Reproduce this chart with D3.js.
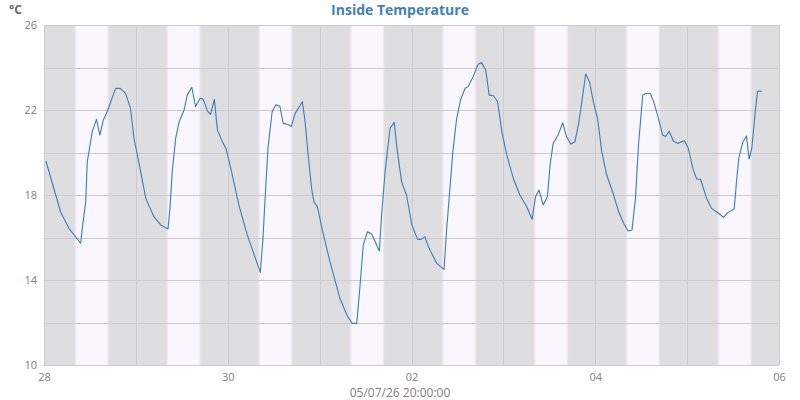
<!DOCTYPE html>
<html>
<head>
<meta charset="utf-8">
<script src="https://cdn.jsdelivr.net/npm/d3@7"></script>
<style>
  html, body { margin: 0; padding: 0; background: #fff; }
  svg { display: block; font-family: "Open Sans", "DejaVu Sans", sans-serif; }
</style>
</head>
<body>
<svg id="chart" width="800" height="400"></svg>
<script>
// ---- data ----
const chartTitle = "Inside Temperature";
const unitLabel = "°C";
const footerLabel = "05/07/26 20:00:00";
const startDate = "2026-04-28T00:00:00Z";
const endDate = "2026-05-06T00:00:00Z";
const xTickLabels = ["28", "30", "02", "04", "06"];
// hours since start
const hours = [0.5,4.35,6.5,9.6,10.0,10.9,11.3,11.75,12.6,13.7,14.6,15.5,16.5,18.7,19.9,21.3,22.6,23.5,24.4,26.6,28.7,30.5,32.4,32.9,33.5,34.4,35.3,36.6,37.4,38.6,39.6,40.8,41.6,42.7,43.5,44.5,45.3,46.6,47.6,48.8,50.9,53.1,54.9,56.5,57.2,57.9,58.5,59.6,60.5,61.6,62.5,63.6,64.6,65.6,67.5,68.2,69.0,69.9,70.5,71.4,73.0,74.7,77.3,79.1,80.5,81.7,82.5,83.4,84.5,85.6,87.6,88.2,89.1,90.4,91.5,92.1,93.4,94.7,96.1,97.6,98.5,99.5,100.4,102.6,104.5,105.2,105.9,106.8,107.8,108.8,110.0,110.8,112.1,113.4,114.3,115.4,116.3,117.4,118.5,119.6,120.9,122.6,124.3,126.1,127.5,128.4,129.3,130.4,131.5,132.2,133.0,134.3,135.5,136.5,137.6,138.7,139.6,140.5,141.5,142.5,143.5,144.6,145.7,147.0,148.8,150.1,151.4,152.6,153.6,154.5,155.3,156.4,157.1,158.4,159.4,160.5,161.6,162.4,163.3,164.4,165.5,167.3,168.3,169.6,170.5,171.5,173.1,174.4,176.2,177.5,178.6,180.3,180.9,181.5,182.6,183.5,184.2,184.9,185.7,186.4,187.5];
const temps = [19.6,17.2,16.43,15.73,16.43,17.69,19.57,20.04,20.98,21.56,20.82,21.53,21.92,23.02,23.02,22.78,22.08,20.67,19.88,17.84,16.98,16.59,16.4,17.37,19.1,20.67,21.45,22.0,22.7,23.07,22.16,22.55,22.5,21.95,21.8,22.5,21.06,20.5,20.16,19.25,17.53,16.12,15.18,14.36,15.96,18.31,20.2,21.92,22.24,22.19,21.37,21.33,21.22,21.84,22.39,21.45,19.88,18.31,17.69,17.45,16.12,14.86,13.14,12.35,11.96,11.96,13.61,15.65,16.27,16.16,15.36,17.06,19.1,21.14,21.42,20.35,18.63,18.0,16.59,15.91,15.91,16.04,15.57,14.78,14.5,16.43,18.0,20.04,21.61,22.47,23.02,23.1,23.57,24.15,24.23,23.88,22.7,22.67,22.39,20.98,19.88,18.78,18.0,17.45,16.86,17.92,18.24,17.53,17.92,19.41,20.43,20.82,21.4,20.75,20.4,20.51,21.29,22.39,23.69,23.33,22.39,21.61,20.04,18.94,18.0,17.22,16.67,16.31,16.35,17.84,20.35,22.7,22.78,22.78,22.31,21.61,20.82,20.75,21.0,20.54,20.43,20.55,20.2,19.18,18.75,18.74,17.84,17.37,17.14,16.95,17.17,17.34,18.63,19.73,20.51,20.78,19.69,20.2,21.76,22.89,22.89];
const yTicks = [10,14,18,22,26];
const yGrid = [10,12,14,16,18,20,22,24,26];
const yDomain = [10, 26];
// daylight hours (local) for the shaded bands
const dayStartHour = 7.9;
const dayEndHour = 17.0;

// ---- layout ----
const svg = d3.select("#chart");
const W = 800, H = 400;
const m = {left: 44, right: 21, top: 25, bottom: 35};
const x0 = m.left, x1 = W - m.right, y0 = m.top, y1 = H - m.bottom;

const t0 = new Date(startDate), t1 = new Date(endDate);
const x = d3.scaleUtc().domain([t0, t1]).range([x0, x1]);
const y = d3.scaleLinear().domain(yDomain).range([y1, y0]);
const hourToDate = h => new Date(t0.getTime() + h * 3600e3);

const data = hours.map((h, i) => ({t: hourToDate(h), v: temps[i]}));

// night background
svg.append("rect").attr("x", x0).attr("y", y0).attr("width", x1 - x0).attr("height", y1 - y0)
  .attr("fill", "#dedee1");

// day bands
const days = d3.utcDay.range(t0, t1);
const defs = svg.append("defs");
const grad = defs.append("linearGradient").attr("id", "dayGrad").attr("x1", "0").attr("x2", "1");
grad.append("stop").attr("offset", "0").attr("stop-color", "#e5dbea");
grad.append("stop").attr("offset", "0.07").attr("stop-color", "#faf6fd");
grad.append("stop").attr("offset", "0.93").attr("stop-color", "#faf6fd");
grad.append("stop").attr("offset", "1").attr("stop-color", "#e5dbea");
svg.append("g").selectAll("rect").data(days).join("rect")
  .attr("x", d => x(new Date(d.getTime() + dayStartHour * 3600e3)))
  .attr("width", d => x(new Date(d.getTime() + dayEndHour * 3600e3)) - x(new Date(d.getTime() + dayStartHour * 3600e3)))
  .attr("y", y0).attr("height", y1 - y0)
  .attr("fill", "url(#dayGrad)");

// grid
const grid = svg.append("g").attr("stroke", "#cdcbcf").attr("stroke-width", 1).attr("shape-rendering", "crispEdges");
grid.selectAll("line.h").data(yGrid).join("line").attr("class", "h")
  .attr("x1", x0).attr("x2", x1).attr("y1", d => Math.round(y(d)) + 0.5).attr("y2", d => Math.round(y(d)) + 0.5);
grid.selectAll("line.v").data(d3.utcDay.range(t0, d3.utcDay.offset(t1, 1))).join("line").attr("class", "v")
  .attr("y1", y0).attr("y2", y1).attr("x1", d => Math.round(x(d)) + 0.5).attr("x2", d => Math.round(x(d)) + 0.5);

// line
svg.append("path").datum(data)
  .attr("fill", "none").attr("stroke", "#3a7dbb").attr("stroke-width", 1.1)
  .attr("stroke-linejoin", "round")
  .attr("d", d3.line().x(d => x(d.t)).y(d => y(d.v)));

// axes
const xTickDates = d3.utcDay.range(t0, d3.utcDay.offset(t1, 1), 2);
const xAxis = d3.axisBottom(x).tickValues(xTickDates)
  .tickFormat((d, i) => xTickLabels[i]).tickSize(0).tickPadding(8);
const gx = svg.append("g").attr("transform", `translate(0,${y1})`).call(xAxis);
gx.select(".domain").remove();
gx.selectAll("text").attr("fill", "#808080").attr("font-size", 11).attr("font-family", "'Open Sans', sans-serif");

const yAxis = d3.axisLeft(y).tickValues(yTicks).tickFormat(d3.format("d")).tickSize(0).tickPadding(7);
const gy = svg.append("g").attr("transform", `translate(${x0},0)`).call(yAxis);
gy.select(".domain").remove();
gy.selectAll("text").attr("fill", "#808080").attr("font-size", 11).attr("font-family", "'Open Sans', sans-serif");

// texts
svg.append("text").attr("x", W / 2).attr("y", 15).attr("text-anchor", "middle")
  .attr("font-size", 14).attr("font-weight", "bold").attr("fill", "#4280b8").text(chartTitle);
svg.append("text").attr("x", 9).attr("y", 14)
  .attr("font-size", 12).attr("font-weight", "bold").attr("fill", "#666").text(unitLabel);
svg.append("text").attr("x", W / 2).attr("y", 397).attr("text-anchor", "middle")
  .attr("font-size", 12).attr("fill", "#808080").text(footerLabel);
</script>
</body>
</html>
